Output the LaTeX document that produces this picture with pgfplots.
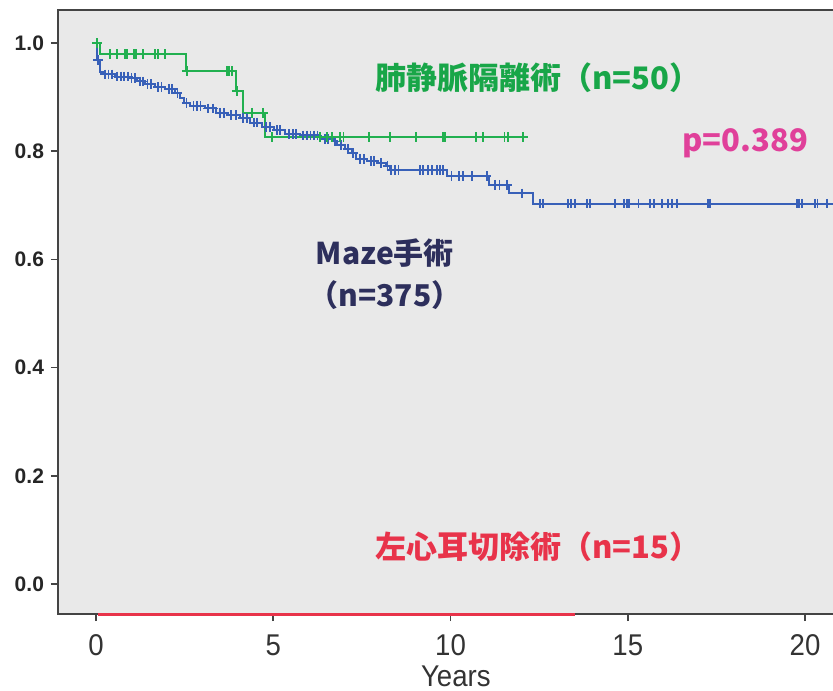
\documentclass[border=0pt]{standalone}
\usepackage{fontspec}
\usepackage{pgfplots}
\pgfplotsset{compat=1.18}
\setmainfont{Liberation Sans}
\newfontfamily\cjk{Noto Sans CJK JP}
\newfontfamily\xfont[FakeStretch=0.92]{Liberation Sans}
\definecolor{bgc}{RGB}{233,233,233}
\definecolor{framec}{RGB}{68,68,68}
\definecolor{gline}{RGB}{34,176,80}
\definecolor{bline}{RGB}{56,96,184}
\definecolor{gtext}{RGB}{24,166,72}
\definecolor{ptext}{RGB}{224,64,154}
\definecolor{mtext}{RGB}{45,47,92}
\definecolor{rtext}{RGB}{232,51,74}
\begin{document}
\begin{tikzpicture}
\useasboundingbox (0,0) rectangle (416.5pt,345pt);
\clip (0,0) rectangle (416.5pt,345pt);
\begin{axis}[
  at={(29pt,38pt)}, anchor=south west,
  scale only axis, width=389pt, height=302pt,
  xmin=-1.072, xmax=20.874, ymin=-0.0555, ymax=1.061,
  axis background/.style={fill=bgc},
  axis line style={draw=framec, line width=0.8pt},
  xtick={0,5,10,15,20}, ytick={0,0.2,0.4,0.6,0.8,1.0},
  tick pos=left, tick align=outside,
  major tick length=3.5pt,
  tick style={draw=framec, line width=0.8pt},
  yticklabel style={font=\bfseries\fontsize{10.5}{10.5}\selectfont, color=black!85,
    /pgf/number format/.cd, fixed, fixed zerofill, precision=1},
  yticklabel={\pgfmathprintnumber[assume math mode=true]{\tick}},
  xticklabel style={font=\xfont\fontsize{15}{15}\selectfont, color=black!80, inner sep=1pt, yshift=-5.5pt},
  xticklabel={\pgfmathprintnumber[assume math mode=true]{\tick}},
  clip=false,
  every axis plot/.append style={line width=1pt},
]
% Maze (blue) survival curve
\addplot[const plot, color=bline, mark=none] coordinates {
(0,1.0)(0.02,0.969)(0.1,0.947)(0.2,0.942)(0.54,0.938)(0.96,0.935)(1.16,0.929)(1.38,0.924)(1.66,0.919)(1.95,0.915)(2.23,0.908)(2.37,0.898)(2.48,0.889)(2.65,0.883)(3.07,0.879)(3.39,0.871)(3.72,0.867)(4.06,0.861)(4.34,0.853)(4.68,0.845)(5.02,0.839)(5.33,0.832)(5.75,0.829)(6.32,0.822)(6.69,0.818)(6.80,0.811)(7.02,0.804)(7.22,0.797)(7.33,0.786)(7.64,0.782)(7.93,0.778)(8.18,0.773)(8.29,0.765)(9.90,0.754)(11.09,0.738)(11.65,0.722)(12.33,0.703)(20.87,0.703)
};
% Maze censored
\addplot[only marks, color=bline, mark=+, mark size=2.4pt, mark options={line width=0.9pt}] coordinates {
(0.06,0.969)
(0.25,0.942)(0.35,0.942)(0.45,0.942)
(0.6,0.938)(0.7,0.938)(0.8,0.938)(0.9,0.938)
(1.0,0.935)(1.1,0.935)
(1.25,0.929)(1.32,0.929)
(1.45,0.924)(1.55,0.924)
(1.75,0.919)(1.85,0.919)
(2.05,0.915)(2.15,0.915)
(2.3,0.908)
(2.55,0.889)
(2.75,0.883)(2.85,0.883)(2.95,0.883)
(3.15,0.879)(3.3,0.879)
(3.5,0.871)(3.6,0.871)
(3.8,0.867)(3.95,0.867)
(4.15,0.861)(4.25,0.861)
(4.45,0.853)(4.55,0.853)
(4.8,0.845)(4.9,0.845)
(5.1,0.839)(5.2,0.839)
(5.45,0.832)(5.55,0.832)(5.65,0.832)
(5.85,0.829)(5.95,0.829)(6.05,0.829)(6.15,0.829)(6.25,0.829)
(6.45,0.822)(6.55,0.822)
(6.75,0.818)
(6.9,0.811)
(7.1,0.804)
(7.25,0.797)
(7.45,0.786)(7.55,0.786)
(7.75,0.782)(7.85,0.782)
(8.05,0.778)
(8.22,0.773)
(8.33,0.765)(8.43,0.765)(8.53,0.765)(9.14,0.765)(9.22,0.765)(9.37,0.765)(9.47,0.765)(9.61,0.765)(9.70,0.765)(9.78,0.765)
(10.03,0.754)(10.25,0.754)(10.36,0.754)(10.61,0.754)(11.02,0.754)
(11.26,0.738)(11.38,0.738)(11.59,0.738)
(12.01,0.722)
(12.52,0.703)(12.60,0.703)(13.32,0.703)(13.39,0.703)(13.51,0.703)(13.84,0.703)(13.93,0.703)(14.64,0.703)(14.89,0.703)(14.97,0.703)(15.04,0.703)(15.30,0.703)(15.63,0.703)(15.74,0.703)(15.96,0.703)(16.13,0.703)(16.24,0.703)(16.38,0.703)(17.27,0.703)(17.32,0.703)(19.77,0.703)(19.84,0.703)(19.91,0.703)(20.28,0.703)(20.35,0.703)(20.63,0.703)
};
% PVI (green) survival curve
\addplot[const plot, color=gline, mark=none] coordinates {
(0,1.0)(0.1,0.98)(2.54,0.948)(3.95,0.911)(4.14,0.871)(4.77,0.826)(12.12,0.826)
};
\addplot[only marks, color=gline, mark=+, mark size=2.4pt, mark options={line width=0.9pt}] coordinates {
(0.03,1.0)
(0.39,0.98)(0.60,0.98)(0.82,0.98)(0.87,0.98)(1.07,0.98)(1.13,0.98)(1.33,0.98)(1.66,0.98)(1.76,0.98)(1.95,0.98)
(2.56,0.948)(3.69,0.948)(3.76,0.948)(3.83,0.948)
(3.97,0.911)
(4.39,0.871)(4.72,0.871)
(4.96,0.826)(6.32,0.826)(6.51,0.826)(6.65,0.826)(6.88,0.826)(6.98,0.826)(7.70,0.826)(8.29,0.826)(9.03,0.826)(9.78,0.826)(9.84,0.826)(10.71,0.826)(10.91,0.826)(11.52,0.826)(11.63,0.826)(12.04,0.826)
};
% LAA excision (red) line along the bottom
\addplot[color=rtext, line width=1.6pt, mark=none] coordinates {(0.05,-0.0565)(13.5,-0.0565)};
% annotations
\node[anchor=west, inner sep=0pt, text=gtext, font=\cjk\bfseries\fontsize{15.5}{15.5}\selectfont] at (axis cs:7.87,0.935) {肺静脈隔離術（n=50）};
\node[anchor=west, inner sep=0pt, text=ptext, font=\cjk\bfseries\fontsize{15.5}{15.5}\selectfont] at (axis cs:16.53,0.814) {p=0.389};
\node[anchor=center, inner sep=0pt, text=mtext, font=\cjk\bfseries\fontsize{15}{15}\selectfont] at (axis cs:8.15,0.612) {Maze手術};
\node[anchor=center, inner sep=0pt, text=mtext, font=\cjk\bfseries\fontsize{15}{15}\selectfont] at (axis cs:8.15,0.534) {（n=375）};
\node[anchor=west, inner sep=0pt, text=rtext, font=\cjk\bfseries\fontsize{15.5}{15.5}\selectfont] at (axis cs:7.87,0.068) {左心耳切除術（n=15）};
\node[anchor=north, inner sep=0pt, text=black!80, font=\xfont\fontsize{15}{15}\selectfont] at (axis cs:10.15,-0.0555) [yshift=-25.5pt] {Years};
\end{axis}
\end{tikzpicture}
\end{document}
